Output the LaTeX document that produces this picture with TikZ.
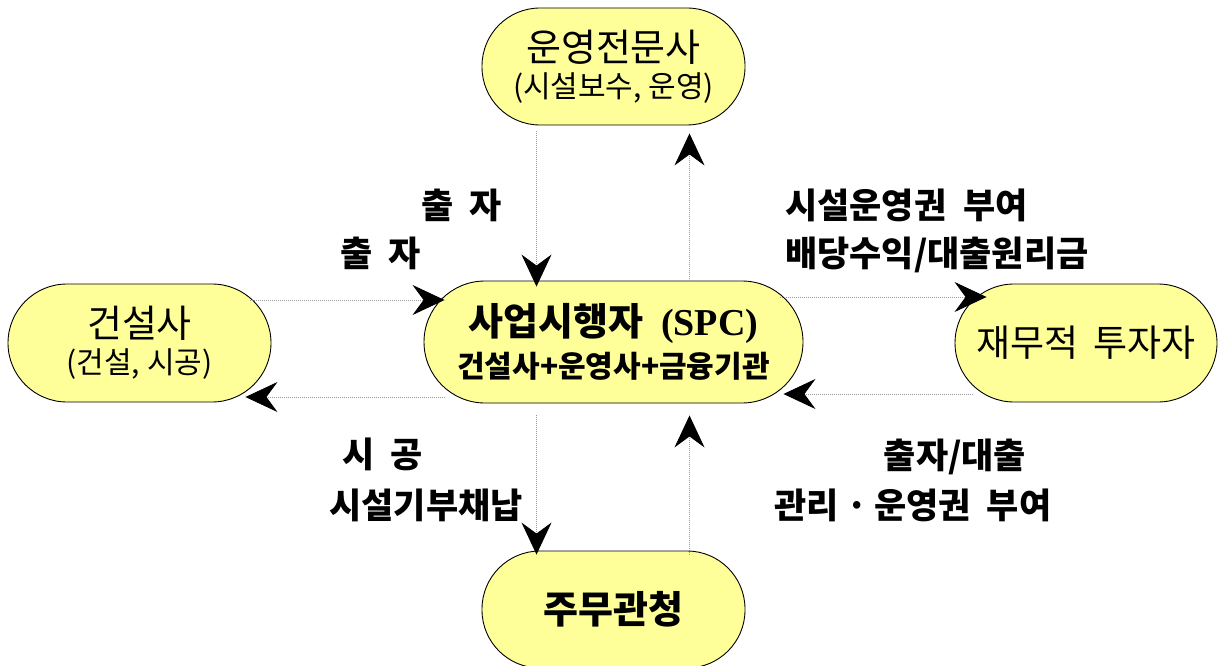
\documentclass[tikz,border=0pt]{standalone}
\usepackage{fontspec}
\setmainfont{Noto Sans CJK KR}
\newfontfamily\kr{Noto Sans CJK KR}
\newfontfamily\lat{Liberation Serif}
\usetikzlibrary{arrows.meta}
\definecolor{nodefill}{HTML}{FFFF99}
\tikzset{
  ent/.style={draw=black, line width=0.9pt, fill=nodefill, align=center, inner sep=0pt},
  conn/.style={draw=gray!80, line width=0.8pt, dash pattern=on 1pt off 1pt,
    -{Stealth[length=32pt,width=30pt,inset=11pt,color=black]}},
  lab/.style={font=\kr\bfseries\fontsize{35}{40}\selectfont, inner sep=0pt}
}
\begin{document}
\begin{tikzpicture}[x=1pt,y=-1pt]
\useasboundingbox (0,0) rectangle (1220,666);
\clip (0,0) rectangle (1220,666);
\node[ent, minimum width=263pt, minimum height=117pt, rounded corners=58pt] (top) at (613.5,66.5)
  {\fontsize{38}{40}\selectfont 운영전문사\\[7pt]\fontsize{30}{36}\selectfont (시설보수, 운영)};
\node[ent, minimum width=379pt, minimum height=122pt, rounded corners=61pt] (spc) at (613.5,342)
  {\bfseries\fontsize{38}{40}\selectfont 사업시행자 \ {\lat\bfseries (SPC)}\\[8pt]\bfseries\fontsize{30}{36}\selectfont 건설사+운영사+금융기관};
\node[ent, minimum width=263pt, minimum height=118pt, rounded corners=59pt] (left) at (139.5,343)
  {\fontsize{38}{40}\selectfont 건설사\\[7pt]\fontsize{30}{36}\selectfont (건설, 시공)};
\node[ent, minimum width=262pt, minimum height=118pt, rounded corners=59pt] (right) at (1086,343)
  {\fontsize{37}{40}\selectfont 재무적\hspace{0.4em}투자자};
\node[ent, minimum width=263pt, minimum height=117pt, rounded corners=58pt] (bot) at (613.5,609.5)
  {\bfseries\fontsize{38}{41}\selectfont 주무관청};

\draw[conn] ([xshift=-77pt,yshift=-6pt]top.south) -- ([xshift=-77pt,yshift=-6pt]spc.north);
\draw[conn] ([xshift=76pt]spc.north) -- ([xshift=76pt,yshift=-8pt]top.south);
\draw[conn] ([xshift=-21pt,yshift=43pt]left.east) -- ([xshift=21pt,yshift=42pt]spc.west);
\draw[conn] ([xshift=21pt,yshift=-55pt]spc.west) -- ([xshift=-26pt,yshift=-54pt]left.east);
\draw[conn] ([xshift=-23pt,yshift=45pt]spc.east) -- ([xshift=32pt,yshift=46pt]right.west);
\draw[conn] ([xshift=18pt,yshift=-51pt]right.west) -- ([xshift=-20pt,yshift=-52pt]spc.east);
\draw[conn] ([xshift=-77pt,yshift=-12pt]spc.south) -- ([xshift=-77pt,yshift=-4pt]bot.north);
\draw[conn] ([xshift=76pt,yshift=-4pt]bot.north) -- ([xshift=76pt,yshift=-12pt]spc.south);

\node[lab] (l1) at (462,205) {출\hspace{0.45em}자};
\node[lab] (l2) at (381,253) {출\hspace{0.45em}자};
\node[lab, anchor=west] (l3) at (785,205) {시설운영권\hspace{0.5em}부여};
\node[lab, anchor=west] (l4) at (785,255) {배당수익/대출원리금};
\node[lab] (l5) at (383,454) {시\hspace{0.45em}공};
\node[lab] (l6) at (426,505) {시설기부채납};
\node[lab] (l7) at (955,457) {출자/대출};
\node[lab] (l8) at (913,505) {관리\hspace{0.2em}·\hspace{0.2em}운영권\hspace{0.45em}부여};
\end{tikzpicture}
\end{document}
